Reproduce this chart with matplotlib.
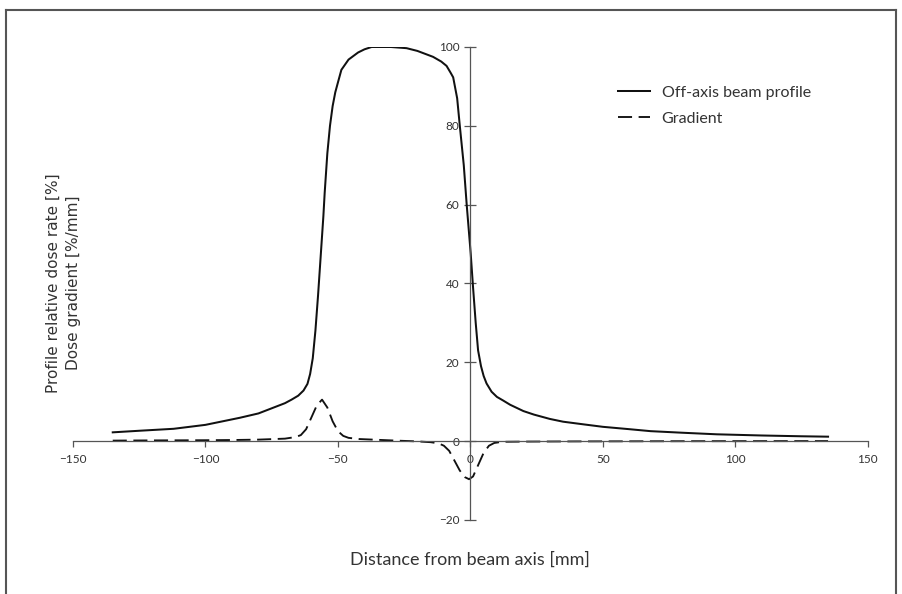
import matplotlib.pyplot as plt
from matplotlib.lines import Line2D

# Off-axis beam profile
profile_x = [-135, -125, -112, -100, -87, -80, -75, -70, -67.5, -65, -63, -61.5, -60.5,
             -59.5, -58.5, -57.5, -56.5, -55.5, -55, -54, -53, -52, -51, -50, -48.7, -46,
             -42.4, -40, -37.3, -30, -24.1, -20, -14.1, -11, -9, -7.5, -6.5, -5, -4, -2.5,
             -1.4, 0.1, 1, 2, 2.9, 4, 5, 6.1, 8, 10, 12.3, 15, 20, 24, 30, 35, 43, 50, 60,
             68, 80, 93, 110, 125, 135]
profile_y = [2.2, 2.6, 3.1, 4.1, 5.9, 7.0, 8.3, 9.6, 10.5, 11.5, 12.8, 14.5, 17,
             21, 28, 37, 47, 57, 63, 73, 80, 85, 88.5, 91, 94.2, 96.8,
             98.6, 99.4, 100, 100, 99.7, 99, 97.5, 96.3, 95.2, 93.5, 92.3, 87, 80, 70,
             60, 47.7, 39, 30, 23, 19, 16.5, 14.6, 12.5, 11.2, 10.3, 9.2, 7.6, 6.7, 5.6, 4.9,
             4.2, 3.6, 3.0, 2.5, 2.1, 1.7, 1.4, 1.2, 1.1]

# Dose gradient
grad_x = [-135, -120, -100, -90, -80, -70, -66, -64, -62, -60, -58, -56, -54, -52, -50,
          -48, -46, -42, -35, -28, -20, -15, -12, -10, -8, -6, -4, -2, -0.5, 1, 3, 5, 7,
          9, 12, 20, 40, 80, 135]
grad_y = [0.1, 0.15, 0.2, 0.25, 0.35, 0.6, 1.0, 1.5, 3.0, 6.0, 9.0, 10.5, 8.5, 5.0, 2.5,
          1.3, 0.8, 0.5, 0.3, 0.1, -0.1, -0.3, -0.6, -1.2, -2.5, -5.0, -7.5, -9.2, -9.7,
          -9.0, -6.0, -3.0, -1.2, -0.5, -0.2, -0.15, -0.1, -0.05, -0.02]

x_ticks = [-150, -100, -50, 0, 50, 100, 150]
y_ticks = [-20, 0, 20, 40, 60, 80, 100]

font = ['Lato', 'DejaVu Sans']
axis_grey = '#555555'
text_grey = '#333333'

fig = plt.figure(figsize=(9.02, 5.94), dpi=100)
ax = fig.add_axes([73 / 902, 0.1249, 794.8 / 902, 0.796])

ax.plot(profile_x, profile_y, color='#111111', lw=1.45, label='Off-axis beam profile')
ax.plot(grad_x, grad_y, color='#111111', lw=1.35, dashes=(7.5, 3.5), label='Gradient')

ax.set_xlim(-150, 150)
ax.set_ylim(-20, 100)

# axes crossing at the origin
ax.spines['left'].set_position(('data', 0))
ax.spines['bottom'].set_position(('data', 0))
ax.spines['right'].set_visible(False)
ax.spines['top'].set_visible(False)
for s in ['left', 'bottom']:
    ax.spines[s].set_color(axis_grey)
    ax.spines[s].set_linewidth(0.9)

ax.set_xticks(x_ticks)
ax.set_yticks(y_ticks)
ax.tick_params(axis='x', direction='out', length=4, width=0.9, color=axis_grey,
               labelsize=8.5, labelcolor=text_grey, pad=5)
ax.tick_params(axis='y', direction='inout', length=8, width=0.9, color=axis_grey,
               labelsize=8.5, labelcolor=text_grey, pad=4)
for lab in ax.get_xticklabels() + ax.get_yticklabels():
    lab.set_fontfamily(font)

fig.text(63 / 902, (594 - 283) / 594,
         'Profile relative dose rate [%]\nDose gradient [%/mm]',
         rotation=90, ha='center', va='center', multialignment='center',
         fontsize=11, color=text_grey, linespacing=1.45, family='DejaVu Sans')
fig.text(470 / 902, (594 - 560) / 594, 'Distance from beam axis [mm]',
         ha='center', va='center', fontsize=13, color=text_grey, family=font)

leg = ax.legend(loc='upper left', bbox_to_anchor=(604 / 902, (594 - 71) / 594),
                bbox_transform=fig.transFigure, frameon=False,
                handlelength=2.0, handletextpad=0.7, labelspacing=0.75,
                prop={'family': font, 'size': 11.5})
for t in leg.get_texts():
    t.set_color(text_grey)

# frame around the figure
for xs, ys in [([6, 6], [594, 10]), ([6, 896], [10, 10]), ([896, 896], [10, 594])]:
    fig.add_artist(Line2D([x / 902 for x in xs], [(594 - y) / 594 for y in ys],
                          color='#555555', lw=1.5, transform=fig.transFigure))

fig.savefig('out.png', dpi=100)
